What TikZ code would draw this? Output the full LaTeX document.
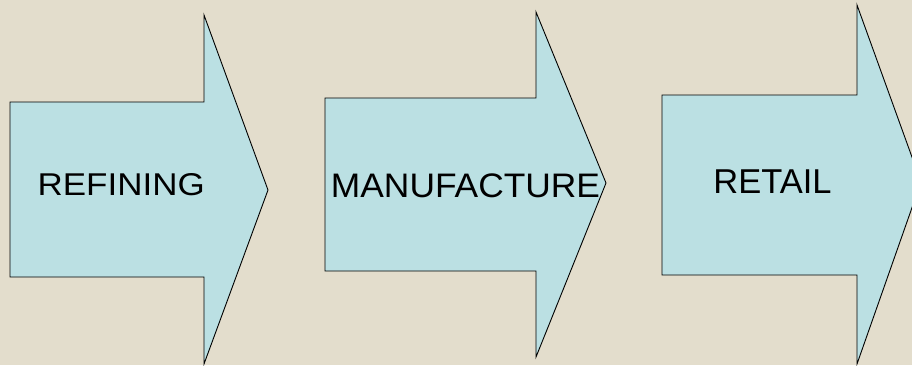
\documentclass[tikz,border=0pt]{standalone}
\usepackage{fontspec}
\setmainfont{Liberation Sans}
\definecolor{bgcol}{RGB}{227,221,204}
\definecolor{arrowfill}{RGB}{187,224,227}
\begin{document}
\begin{tikzpicture}[x=1pt,y=-1pt,
  blockarrow/.style={fill=arrowfill,draw=black,line width=0.9pt,line join=miter},
  label/.style={anchor=base,inner sep=0pt}]
\useasboundingbox (0,0) rectangle (912,365);
\clip (0,0) rectangle (912,365);
\fill[bgcol] (0,0) rectangle (912,365);
% arrow 1
\draw[blockarrow] (10,102) -- (204,102) -- (204,15) -- (268,190) -- (204,364) -- (204,277) -- (10,277) -- cycle;
% arrow 2
\draw[blockarrow] (325,98) -- (536,98) -- (536,12) -- (606,183) -- (536,357) -- (536,271) -- (325,271) -- cycle;
% arrow 3
\draw[blockarrow] (662,95) -- (857,95) -- (857,5) -- (921,182) -- (857,364) -- (857,275) -- (662,275) -- cycle;
\node[label,font=\fontsize{31.5}{31.5}\selectfont] (refining) at (121.2,195) {\scalebox{1.11}[1]{REFINING}};
\node[label,font=\fontsize{34}{34}\selectfont] (manufacture) at (465.5,197.5) {\scalebox{1.04}[1]{MANUFACTURE}};
\node[label,font=\fontsize{34.5}{34.5}\selectfont] (retail) at (772.5,193) {RETAIL};
\end{tikzpicture}
\end{document}
